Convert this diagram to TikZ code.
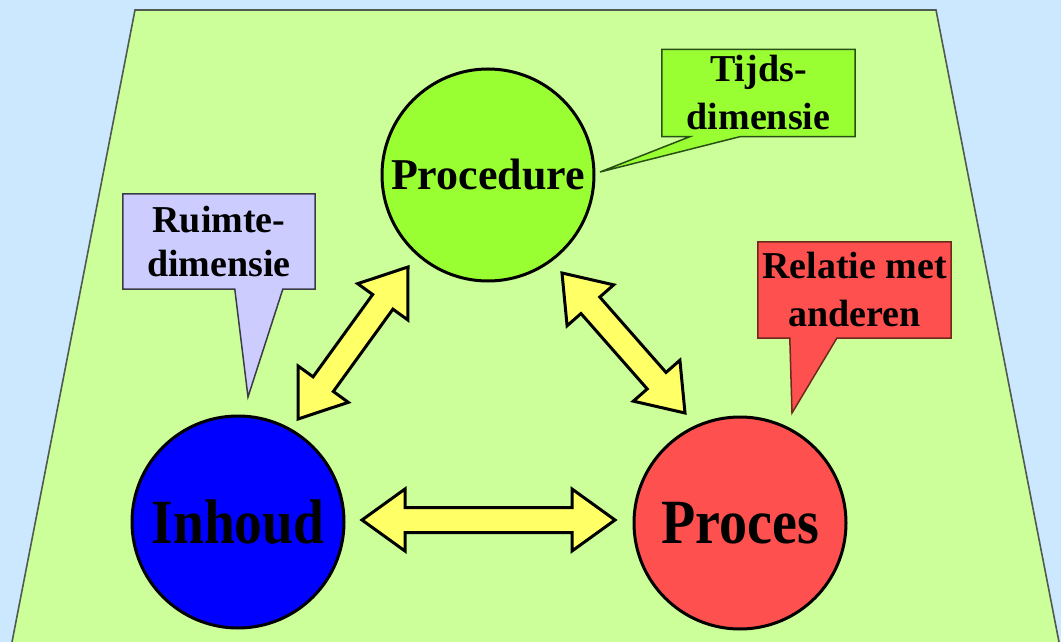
\documentclass[tikz,border=0pt]{standalone}
\usepackage{fontspec}
\usepackage{graphicx}
\setmainfont{Liberation Serif}
\usetikzlibrary{calc,backgrounds}
\definecolor{sky}{RGB}{204,232,254}
\definecolor{lawn}{RGB}{204,255,153}
\definecolor{lime}{RGB}{153,255,51}
\definecolor{lav}{RGB}{204,204,255}
\definecolor{coral}{RGB}{255,80,80}
\definecolor{pblue}{RGB}{0,0,255}
\definecolor{lemon}{RGB}{255,255,102}
\definecolor{edgegray}{RGB}{80,90,80}
\definecolor{tborder}{RGB}{40,80,20}
\definecolor{rborder}{RGB}{60,60,70}
\definecolor{cborder}{RGB}{110,40,30}
\tikzset{
  circ/.style={circle, draw=black, line width=3pt, minimum size=212pt, inner sep=0pt, text=black},
  calltext/.style={font=\bfseries\fontsize{38}{48}\selectfont, align=center, inner sep=0pt, text=black},
  callshape/.style={line width=1.5pt, line join=miter},
  fat/.style={fill=lemon, draw=black, line width=3pt, line join=miter},
  bigfont/.style={font=\bfseries\fontsize{63}{70}\selectfont},
}
\newcommand\fatarrow[2]{%
  \draw[fat] (#1)
    -- ($(#1)!43pt!(#2)!31pt!90:(#2)$)
    -- ($(#1)!43pt!(#2)!12.5pt!90:(#2)$)
    -- ($(#2)!43pt!(#1)!12.5pt!-90:(#1)$)
    -- ($(#2)!43pt!(#1)!31pt!-90:(#1)$)
    -- (#2)
    -- ($(#2)!43pt!(#1)!31pt!90:(#1)$)
    -- ($(#2)!43pt!(#1)!12.5pt!90:(#1)$)
    -- ($(#1)!43pt!(#2)!12.5pt!-90:(#2)$)
    -- ($(#1)!43pt!(#2)!31pt!-90:(#2)$)
    -- cycle;}
\begin{document}
\begin{tikzpicture}[x=1pt,y=-1pt]
\useasboundingbox (0,0) rectangle (1061,642);
\clip (0,0) rectangle (1061,642);

% callout text nodes (shapes drawn on background layer)
\node[calltext, minimum width=193pt, minimum height=87pt] (tijds) at (758.5,93) {Tijds-\\dimensie};
\node[calltext, font=\bfseries\fontsize{38}{44}\selectfont, minimum width=192pt, minimum height=95pt] (ruimte) at (219,241.5) {Ruimte-\\dimensie};
\node[calltext, minimum width=193pt, minimum height=96pt] (relatie) at (854.5,290) {Relatie met\\anderen};
\coordinate (tijdstip) at (600,172);
\coordinate (ruimtetip) at (248,397);
\coordinate (relatietip) at (792,413);

\begin{scope}[on background layer]
  \fill[sky] (0,0) rectangle (1061,642);
  \draw[fill=lawn, draw=edgegray, line width=1.6pt] (135,10) -- (936,10) -- (1062.5,660) -- (8.5,660) -- cycle;
  \draw[callshape, fill=lime, draw=tborder] (tijds.north west) -- (tijds.north east) -- (tijds.south east)
     -- ($(tijds.south west)+(78,0)$) -- (tijdstip) -- ($(tijds.south west)+(28,0)$) -- (tijds.south west) -- cycle;
  \draw[callshape, fill=lav, draw=rborder] (ruimte.north west) -- (ruimte.north east) -- (ruimte.south east)
     -- ($(ruimte.south west)+(160,0)$) -- (ruimtetip) -- ($(ruimte.south west)+(112,0)$) -- (ruimte.south west) -- cycle;
  \draw[callshape, fill=coral, draw=cborder] (relatie.north west) -- (relatie.north east) -- (relatie.south east)
     -- ($(relatie.south west)+(79,0)$) -- (relatietip) -- ($(relatie.south west)+(32,0)$) -- (relatie.south west) -- cycle;
\end{scope}

% circles
\node[circ, fill=lime, font=\bfseries\fontsize{44}{50}\selectfont] (procedure) at (488,175) {Procedure};
\node[circ, fill=pblue, bigfont] (inhoud) at (238,522) {\scalebox{0.88}[1]{Inhoud}};
\node[circ, fill=coral, bigfont] (proces) at (740,523) {\scalebox{0.89}[1]{Proces}};

% fat double arrows
\coordinate (l1) at (298,419);
\coordinate (l2) at (408,267);
\coordinate (h1) at (362,520);
\coordinate (h2) at (615,520);
\coordinate (r1) at (562,273);
\coordinate (r2) at (685,413);
\fatarrow{l1}{l2}
\fatarrow{h1}{h2}
\fatarrow{r1}{r2}
\end{tikzpicture}
\end{document}
